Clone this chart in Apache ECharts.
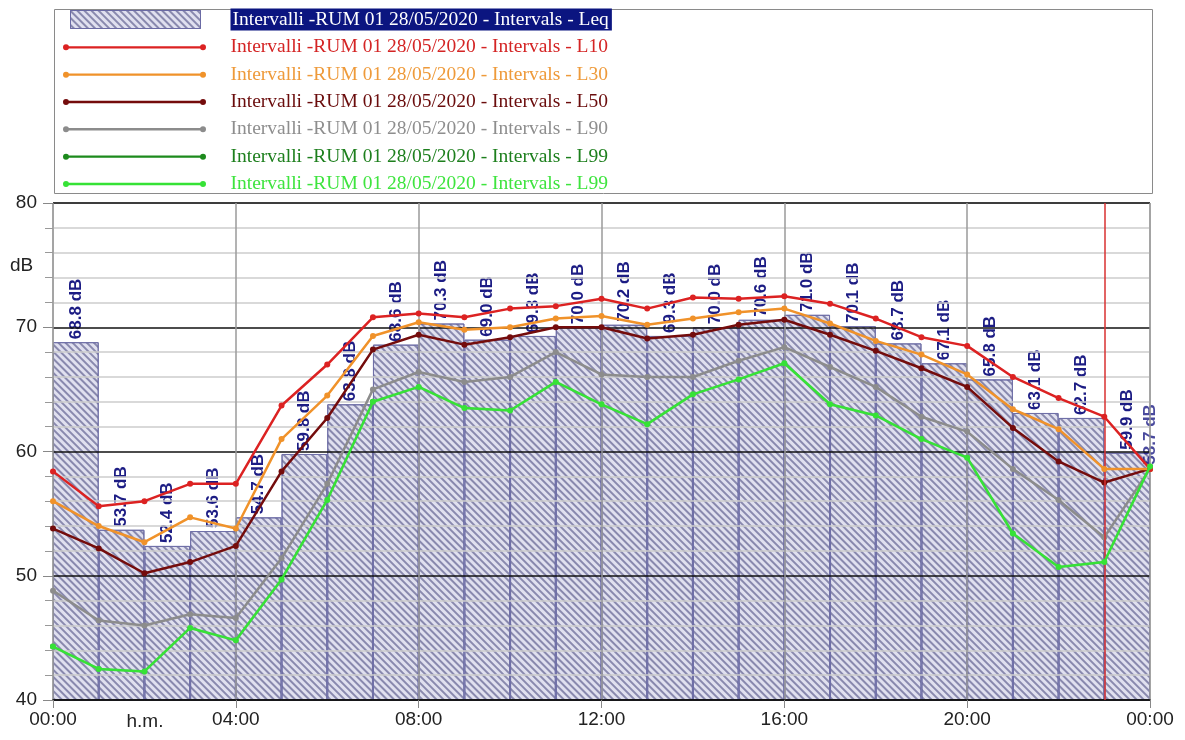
<!DOCTYPE html>
<html>
<head>
<meta charset="utf-8">
<script src="https://cdn.jsdelivr.net/npm/echarts@6/dist/echarts.min.js"></script>
<style>
html,body{margin:0;padding:0;background:#fff;}
#c{width:1185px;height:740px;}
</style>
</head>
<body>
<div id="c"></div>
<script>
// ---- data ----
const hours = [0,1,2,3,4,5,6,7,8,9,10,11,12,13,14,15,16,17,18,19,20,21,22,23,24];
const barHours = ['00','01','02','03','04','05','06','07','08','09','10','11','12','13','14','15','16','17','18','19','20','21','22','23'];
const leq = [68.8,53.7,52.4,53.6,54.7,59.8,63.8,68.6,70.3,69.0,69.3,70.0,70.2,69.3,70.0,70.6,71.0,70.1,68.7,67.1,65.8,63.1,62.7,59.9];
const leqLast = 58.7;
const l10 = [58.4,55.6,56.0,57.4,57.4,63.7,67.0,70.8,71.1,70.8,71.5,71.7,72.3,71.5,72.4,72.3,72.5,71.9,70.7,69.2,68.5,66.0,64.3,62.8,58.6];
const l30 = [56.0,54.0,52.7,54.7,53.8,61.0,64.5,69.3,70.4,69.8,70.0,70.7,70.9,70.2,70.7,71.2,71.5,70.3,68.9,67.8,66.2,63.4,61.8,58.6,58.6];
const l50 = [53.8,52.2,50.2,51.1,52.4,58.4,62.7,68.2,69.4,68.6,69.2,70.0,70.0,69.1,69.4,70.2,70.6,69.4,68.1,66.7,65.2,61.9,59.2,57.5,58.6];
const l90 = [48.8,46.4,46.0,46.9,46.6,51.4,57.4,65.0,66.4,65.6,66.0,68.0,66.2,66.0,66.0,67.3,68.4,66.8,65.2,62.8,61.6,58.6,56.1,53.1,58.6];
const l99 = [44.3,42.5,42.3,45.8,44.8,49.7,56.1,64.0,65.2,63.5,63.3,65.6,63.8,62.2,64.6,65.8,67.1,63.8,62.9,61.0,59.5,53.4,50.7,51.1,58.8];
const xTickLabels = ['00:00','04:00','08:00','12:00','16:00','20:00','00:00'];
const yTickLabels = ['40','50','60','70','80'];
const cursorHour = 23;
const prefix = 'Intervalli -RUM 01 28/05/2020 - Intervals - ';
const names = {
  leq: prefix + 'Leq', l10: prefix + 'L10', l30: prefix + 'L30', l50: prefix + 'L50',
  l90: prefix + 'L90', l99a: prefix + 'L99', l99b: prefix + 'L99 '
};

// ---- styles ----
const colors = {l10:'#dc2222', l30:'#f0922a', l50:'#740c0c', l90:'#8c8c8c', l99a:'#1c8a1c', l99b:'#36e236'};
const textColors = {l10:'#d42424', l30:'#ee9a3a', l50:'#6a0c0c', l90:'#8e8e8e', l99a:'#1d7f1d', l99b:'#3ee43e'};

const lineIcon = 'path://M0,0M163,22M0.5,11a3,3 0 1,1 6,0a3,3 0 1,1 -6,0ZM3.5,9.8h137v2.4h-137ZM137.5,11a3,3 0 1,1 6,0a3,3 0 1,1 -6,0Z';
const barIcon = 'path://M0,0M163,22M8,2h130v18h-130Z';

const decal = {
  symbol: 'rect', symbolSize: 1,
  dashArrayX: [[1, 0]], dashArrayY: [1.2, 2.8],
  rotation: Math.PI / 4,
  color: 'rgba(65,65,120,0.55)'
};

function lineSeries(key, data, z) {
  return {
    name: names[key], type: 'line', xAxisIndex: 0,
    data: hours.map((h, i) => [h, data[i]]),
    symbol: 'circle', symbolSize: 6, z: z,
    lineStyle: {color: colors[key], width: 2.5},
    itemStyle: {color: colors[key]},
    emphasis: {disabled: true}, animation: false
  };
}

const labelStyle = {
  show: true, position: 'top', rotate: 90, align: 'left', verticalAlign: 'middle',
  distance: 3, color: '#1c1c84', fontSize: 17, fontWeight: 'bold',
  fontFamily: 'Liberation Sans', formatter: p => (Array.isArray(p.value) ? p.value[1] : p.value).toFixed(1) + ' dB'
};

const legendItem = (key, icon) => ({
  name: names[key], icon: icon,
  itemStyle: key === 'leq' ? {borderWidth: 1, borderColor: '#6a6aa4'} : {borderWidth: 0},
  textStyle: key === 'leq'
    ? {color: '#ffffff', backgroundColor: '#0b1580', padding: [0, 3, 0, 2]}
    : {color: textColors[key]}
});

const chart = echarts.init(document.getElementById('c'), null, {renderer: 'canvas'});
chart.setOption({
  animation: false,
  backgroundColor: '#ffffff',
  grid: {left: 53, right: 35, top: 203, bottom: 40, show: true, borderColor: '#8a8a8a', borderWidth: 1},
  legend: {
    orient: 'vertical', left: 62, top: 8, itemWidth: 163, itemHeight: 22, itemGap: 5.33,
    padding: 0, selectedMode: false,
    textStyle: {fontFamily: 'Liberation Serif', fontSize: 19.5, lineHeight: 22},
    data: [legendItem('leq', barIcon), legendItem('l10', lineIcon), legendItem('l30', lineIcon),
           legendItem('l50', lineIcon), legendItem('l90', lineIcon), legendItem('l99a', lineIcon),
           legendItem('l99b', lineIcon)]
  },
  graphic: [
    {type: 'rect', left: 52, top: 7, z: -10, shape: {width: 1098, height: 184},
     style: {fill: 'none', stroke: '#8a8a8a', lineWidth: 1}},
    {type: 'text', x: 10, y: 256, style: {text: 'dB', fontFamily: 'Liberation Sans', fontSize: 19, fill: '#222'}},
    {type: 'text', x: 145, y: 712, style: {text: 'h.m.', fontFamily: 'Liberation Sans', fontSize: 19, fill: '#222', align: 'center'}}
  ],
  xAxis: [
    {
      type: 'value', min: 0, max: 24, interval: 4, z: 2,
      axisLine: {show: true, lineStyle: {color: '#111', width: 1.5}},
      axisTick: {show: true, length: 8, lineStyle: {color: '#888', width: 1}},
      axisLabel: {fontFamily: 'Liberation Sans', fontSize: 19, color: '#222', margin: 10,
                  formatter: v => xTickLabels[Math.round(v / 4)]},
      splitLine: {show: true, lineStyle: {color: '#9a9a9a', width: 1.5}}
    },
    {
      type: 'category', data: barHours, boundaryGap: true, show: false, position: 'bottom'
    }
  ],
  yAxis: {
    type: 'value', min: 40, max: 80, interval: 10, z: 2,
    axisLine: {show: false},
    axisTick: {show: true, length: 10, lineStyle: {color: '#888'}},
    minorTick: {show: true, splitNumber: 5, length: 8, lineStyle: {color: '#999'}},
    axisLabel: {fontFamily: 'Liberation Sans', fontSize: 19, color: '#222', margin: 16,
                formatter: v => yTickLabels[Math.round((v - 40) / 10)]},
    splitLine: {show: true, lineStyle: {color: '#111', width: 1.5}},
    minorSplitLine: {show: true, lineStyle: {color: '#cdcdcd', width: 1.5}}
  },
  series: [
    Object.assign(lineSeries('l99a', l99, 0), {
      markLine: {
        silent: true, symbol: 'none', label: {show: false},
        lineStyle: {color: '#d83030', width: 1.5, type: 'solid'},
        data: [{xAxis: cursorHour}]
      }
    }),
    {
      name: names.leq, type: 'bar', xAxisIndex: 1, data: leq, z: 1,
      barCategoryGap: '0%',
      itemStyle: {color: 'rgba(218,218,236,0.85)', borderColor: '#7070a8', borderWidth: 1, decal: decal},
      label: labelStyle, emphasis: {disabled: true}
    },
    {
      name: 'Leq tail', type: 'scatter', xAxisIndex: 0, data: [[24, leqLast]], symbolSize: 0, z: 1,
      label: labelStyle, silent: true
    },
    lineSeries('l90', l90, 3),
    lineSeries('l50', l50, 4),
    lineSeries('l30', l30, 5),
    lineSeries('l10', l10, 6),
    lineSeries('l99b', l99, 7)
  ]
});
</script>
</body>
</html>
